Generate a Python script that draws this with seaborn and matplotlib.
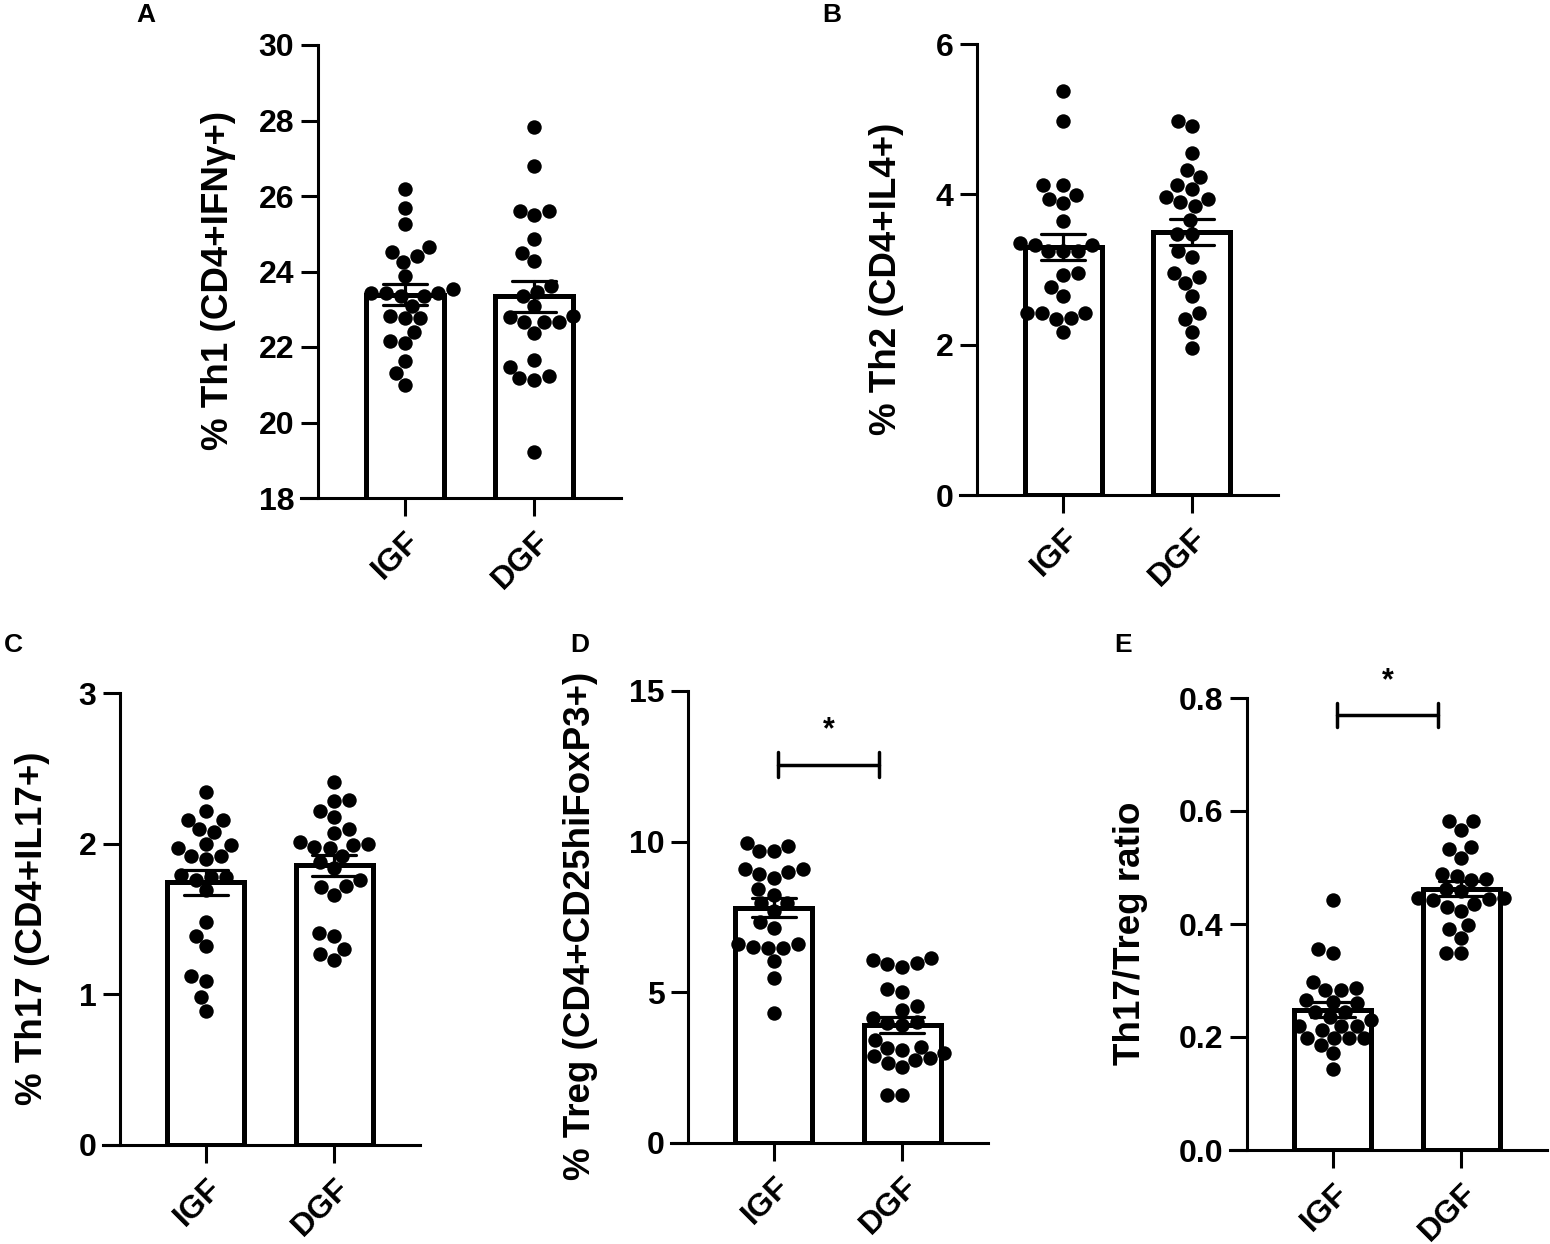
import matplotlib
matplotlib.use('Agg')
import matplotlib.pyplot as plt
from matplotlib.ticker import FormatStrFormatter
import seaborn as sns
import pandas as pd

# ---------------- data ----------------
groups = ['IGF', 'DGF']

th1_igf = [26.19, 25.68, 25.26, 24.64, 24.51, 24.42, 24.25, 23.87, 23.34, 23.42, 23.42,
           23.42, 23.53, 23.34, 23.09, 22.82, 22.76, 22.76, 22.41, 22.17, 22.10, 21.64,
           21.31, 21.00]
th1_dgf = [27.82, 26.80, 25.59, 25.59, 25.49, 24.86, 24.50, 24.29, 23.62, 23.34, 23.47,
           23.09, 22.82, 22.67, 22.79, 22.67, 22.67, 22.38, 21.66, 21.47, 21.22, 21.13,
           21.17, 19.21]

th2_igf = [5.38, 4.98, 4.12, 4.12, 3.94, 3.99, 3.89, 3.64, 3.33, 3.35, 3.33, 3.24, 3.24,
           3.24, 2.93, 2.96, 2.77, 2.65, 2.42, 2.42, 2.35, 2.34, 2.42, 2.17]
th2_dgf = [4.98, 4.91, 4.55, 4.32, 4.23, 4.07, 4.12, 3.94, 3.90, 3.97, 3.84, 3.66, 3.47,
           3.47, 3.24, 3.16, 2.96, 2.82, 2.90, 2.65, 2.42, 2.34, 2.17, 1.96]

th17_igf = [2.34, 2.22, 2.16, 2.16, 2.10, 2.08, 1.99, 2.00, 1.97, 1.92, 1.90, 1.92, 1.76,
            1.78, 1.78, 1.79, 1.69, 1.48, 1.39, 1.32, 1.09, 1.12, 0.98, 0.89]
th17_dgf = [2.41, 2.28, 2.29, 2.22, 2.18, 2.10, 2.07, 1.98, 2.01, 1.99, 2.00, 1.97, 1.92,
            1.88, 1.84, 1.76, 1.72, 1.71, 1.66, 1.41, 1.39, 1.30, 1.27, 1.23]

treg_igf = [9.86, 9.97, 9.68, 9.68, 9.08, 9.08, 9.00, 8.80, 8.94, 8.42, 8.24, 7.95, 7.95,
            7.69, 7.32, 7.14, 6.62, 6.48, 6.62, 6.48, 6.51, 6.04, 5.49, 4.30]
treg_dgf = [6.15, 6.07, 5.85, 5.96, 5.94, 5.10, 5.02, 4.41, 4.55, 4.03, 4.14, 3.97, 3.92,
            3.42, 3.20, 2.98, 3.09, 3.15, 2.76, 2.89, 2.81, 2.65, 2.52, 1.60, 1.60]

ratio_igf = [0.443, 0.356, 0.348, 0.298, 0.284, 0.284, 0.287, 0.265, 0.260, 0.262, 0.245,
             0.230, 0.245, 0.236, 0.219, 0.220, 0.213, 0.220, 0.198, 0.198, 0.198, 0.198,
             0.186, 0.171, 0.143]
ratio_dgf = [0.582, 0.582, 0.566, 0.532, 0.537, 0.517, 0.485, 0.488, 0.477, 0.479, 0.458,
             0.462, 0.446, 0.446, 0.443, 0.444, 0.430, 0.436, 0.423, 0.399, 0.391, 0.376,
             0.348, 0.348]

ylabels = ['% Th1 (CD4+IFNγ+)', '% Th2 (CD4+IL4+)', '% Th17 (CD4+IL17+)',
           '% Treg (CD4+CD25hiFoxP3+)', 'Th17/Treg ratio']
panel_letters = ['A', 'B', 'C', 'D', 'E']

# significance annotations (D and E): bracket height, half tick, star height
sig_D = dict(y=12.56, d=0.41, star_y=13.7, text='*')
sig_E = dict(y=0.77, d=0.021, star_y=0.83, text='*')

# ---------------- style ----------------
sns.set_theme(style='ticks')
plt.rcParams['font.family'] = ['Liberation Sans', 'DejaVu Sans']
plt.rcParams['font.weight'] = 'bold'
for key in ('text.color', 'axes.labelcolor', 'xtick.color', 'ytick.color',
            'axes.edgecolor'):
    plt.rcParams[key] = 'black'

W, H = 1550, 1244
fig = plt.figure(figsize=(W / 100, H / 100), dpi=100)


def add_ax(l, r, t, b):
    return fig.add_axes([l / W, 1 - b / H, (r - l) / W, (b - t) / H])


def panel(ax, igf, dgf, ylim, yticks, ylabel, labelx, labely=0.48, fmt=None, sig=None):
    df = pd.DataFrame({'group': ['IGF'] * len(igf) + ['DGF'] * len(dgf),
                       'value': igf + dgf})
    sns.barplot(data=df, x='group', y='value', order=groups, errorbar='se',
                capsize=0.34, width=0.6, color='white', saturation=1,
                edgecolor='black', linewidth=3.6,
                err_kws={'color': 'black', 'linewidth': 2.3}, ax=ax)
    for ln in ax.lines:
        ln.set_zorder(5)
    sns.swarmplot(data=df, x='group', y='value', order=groups, color='black',
                  size=10.4, ax=ax, zorder=3)
    ax.set_xlim(-0.67, 1.67)
    ax.set_ylim(*ylim)
    ax.set_yticks(yticks)
    if fmt:
        ax.yaxis.set_major_formatter(FormatStrFormatter(fmt))
    ax.set_xticks([0, 1])
    ax.set_xticklabels(groups, rotation=45, ha='right', va='top',
                       rotation_mode='anchor', fontsize=23, fontweight='bold')
    for lab in ax.get_yticklabels():
        lab.set_fontweight('bold')
    ax.tick_params(axis='y', length=12, width=2.2, labelsize=23, pad=5, color='black')
    ax.tick_params(axis='x', length=13, width=2.2, labelsize=23, pad=7, color='black')
    sns.despine(ax=ax)
    for s in ('left', 'bottom'):
        ax.spines[s].set_linewidth(2.2)
        ax.spines[s].set_color('black')
    # x axis line runs out under the y tick marks, as in the original
    ax.spines['bottom'].set_bounds(-0.67 - 0.13, 1.67)
    ax.set_xlabel('')
    ax.set_ylabel(ylabel, fontsize=26.5, fontweight='bold', color='black')
    ax.yaxis.set_label_coords(labelx, labely)
    ax.yaxis.label.set_va('center')
    if sig is not None:
        x0, x1 = 0.03, 0.82
        ax.plot([x0, x1], [sig['y'], sig['y']], color='black', lw=2.5,
                clip_on=False, zorder=6)
        for xx in (x0, x1):
            ax.plot([xx, xx], [sig['y'] - sig['d'], sig['y'] + sig['d']],
                    color='black', lw=2.5, clip_on=False, zorder=6)
        ax.text((x0 + x1) / 2, sig['star_y'], sig['text'], ha='center', va='center',
                fontsize=22, fontweight='bold', color='black')


axA = add_ax(318, 621, 45, 498)
axB = add_ax(977, 1278, 44, 495)
axC = add_ax(120, 420, 693, 1145)
axD = add_ax(688, 988, 691, 1143)
axE = add_ax(1247, 1547, 698, 1150)

panel(axA, th1_igf, th1_dgf, (18, 30), [18, 20, 22, 24, 26, 28, 30], ylabels[0], -0.33)
panel(axB, th2_igf, th2_dgf, (0, 6), [0, 2, 4, 6], ylabels[1], -0.30)
panel(axC, th17_igf, th17_dgf, (0, 3), [0, 1, 2, 3], ylabels[2], -0.29)
panel(axD, treg_igf, treg_dgf, (0, 15), [0, 5, 10, 15], ylabels[3], -0.36, sig=sig_D)
panel(axE, ratio_igf, ratio_dgf, (0, 0.8), [0.0, 0.2, 0.4, 0.6, 0.8], ylabels[4], -0.39,
      fmt='%.1f', sig=sig_E)

letter_pos = [(136, 15), (822, 15), (4, 645), (570, 645), (1114, 645)]
for letter, (px, py) in zip(panel_letters, letter_pos):
    fig.text(px / W, 1 - py / H, letter, fontsize=19, fontweight='bold',
             ha='left', va='center', color='black')

fig.savefig('out.png', dpi=100)
